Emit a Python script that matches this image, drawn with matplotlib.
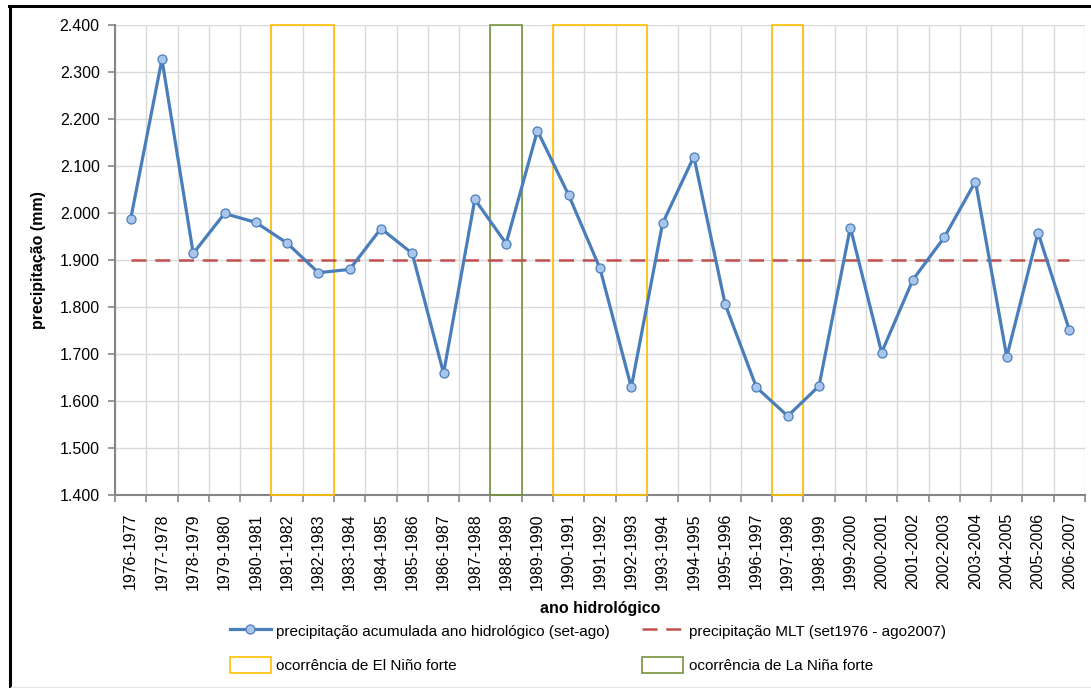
import numpy as np
import matplotlib
matplotlib.use('Agg')
from matplotlib import pyplot as plt
from matplotlib.patches import Rectangle
from matplotlib.lines import Line2D

plt.rcParams['font.family'] = ['Liberation Sans', 'DejaVu Sans']

anos = ['1976-1977', '1977-1978', '1978-1979', '1979-1980', '1980-1981', '1981-1982',
        '1982-1983', '1983-1984', '1984-1985', '1985-1986', '1986-1987', '1987-1988',
        '1988-1989', '1989-1990', '1990-1991', '1991-1992', '1992-1993', '1993-1994',
        '1994-1995', '1995-1996', '1996-1997', '1997-1998', '1998-1999', '1999-2000',
        '2000-2001', '2001-2002', '2002-2003', '2003-2004', '2004-2005', '2005-2006',
        '2006-2007']
precip = [1987, 2327, 1914, 1999, 1980, 1936, 1873, 1880, 1967, 1914,
          1659, 2029, 1935, 2175, 2038, 1882, 1629, 1978, 2120, 1806,
          1629, 1568, 1632, 1969, 1703, 1858, 1948, 2067, 1694, 1958,
          1751]
mlt = 1900

# anos de El Niño / La Niña forte (blocos de anos seguidos)
el_nino = [['1981-1982', '1982-1983'], ['1990-1991', '1991-1992', '1992-1993'], ['1997-1998']]
la_nina = [['1988-1989']]

W, H = 1091, 688
fig = plt.figure(figsize=(W / 100, H / 100), dpi=100)
ax = fig.add_axes([115 / W, (H - 495) / H, (1085 - 115) / W, 470 / H])

x = np.arange(len(anos))
azul = '#4A7EBB'
ax.plot(x, precip, color=azul, lw=2.3, marker='o', ms=6.5,
        mfc='#A9C6EA', mec='#4A7EBB', mew=0.9, zorder=5)
ax.plot([x[0], x[-1]], [mlt, mlt], color='#C0504D', lw=1.8, dashes=(6, 3.5), zorder=4)

for bloco in el_nino:
    i0 = anos.index(bloco[0])
    ax.add_patch(Rectangle((i0 - 0.5, 1400), len(bloco), 1000, fill=False,
                           ec='#FFC000', lw=1.2, clip_on=False, zorder=3))
for bloco in la_nina:
    i0 = anos.index(bloco[0])
    ax.add_patch(Rectangle((i0 - 0.5, 1400), len(bloco), 1000, fill=False,
                           ec='#77933C', lw=1.2, clip_on=False, zorder=3))

ax.set_xlim(-0.5, len(anos) - 0.5)
ax.set_ylim(1400, 2400)
ax.set_yticks(np.arange(1400, 2401, 100))
ax.set_yticklabels(['%d.%03d' % (v // 1000, v % 1000) for v in range(1400, 2401, 100)])
ax.set_xticks(x)
ax.set_xticklabels(anos, rotation=90)
ax.set_xticks(np.arange(-0.5, len(anos)), minor=True)
ax.tick_params(axis='x', which='major', length=0, pad=13, labelsize=11.5)
ax.tick_params(axis='x', which='minor', length=5, width=1.2, color='#868686')
ax.tick_params(axis='y', length=5, width=1.2, color='#868686', pad=6, labelsize=11.5)

ax.grid(True, which='minor', axis='x', color='#D9D9D9', lw=1)
ax.grid(True, which='major', axis='y', color='#D9D9D9', lw=1)
ax.set_axisbelow(True)
for s in ['top', 'right']:
    ax.spines[s].set_visible(False)
for s in ['left', 'bottom']:
    ax.spines[s].set_color('#868686')
    ax.spines[s].set_linewidth(1.5)

ax.set_ylabel('precipitação (mm)', fontsize=11.5, fontweight='bold', labelpad=10)
fig.text(600 / W, 1 - 609 / H, 'ano hidrológico', fontsize=11.5, fontweight='bold',
         ha='center', va='center')

handles = [
    Line2D([], [], color=azul, lw=2.3, marker='o', ms=6.5, mfc='#A9C6EA', mec=azul, mew=0.9),
    Rectangle((0, 0), 1, 1, fill=False, ec='#FFC000', lw=1.2),
    Line2D([], [], color='#C0504D', lw=1.8, dashes=(6, 3.5)),
    Rectangle((0, 0), 1, 1, fill=False, ec='#77933C', lw=1.2),
]
labels = ['precipitação acumulada ano hidrológico (set-ago)',
          'ocorrência de El Niño forte',
          'precipitação MLT (set1976 - ago2007)',
          'ocorrência de La Niña forte']
fig.legend(handles, labels, ncol=2, loc='upper left', bbox_to_anchor=(222 / W, 1 - 615 / H),
           frameon=False, fontsize=11, handlelength=2.7, handleheight=1.2,
           handletextpad=0.35, columnspacing=2.1, labelspacing=1.2, borderpad=0)

# moldura do gráfico
fig.add_artist(Line2D([9.5 / W, 9.5 / W], [0, 1 - 5.5 / H], color='black', lw=2.2,
                      transform=fig.transFigure))
fig.add_artist(Line2D([8.5 / W, 1], [1 - 6 / H, 1 - 6 / H], color='black', lw=2.2,
                      transform=fig.transFigure))
fig.add_artist(Line2D([11 / W, 1], [1.5 / H, 1.5 / H], color='#E6E6E6', lw=1,
                      transform=fig.transFigure))

fig.savefig('out.png', dpi=100)
